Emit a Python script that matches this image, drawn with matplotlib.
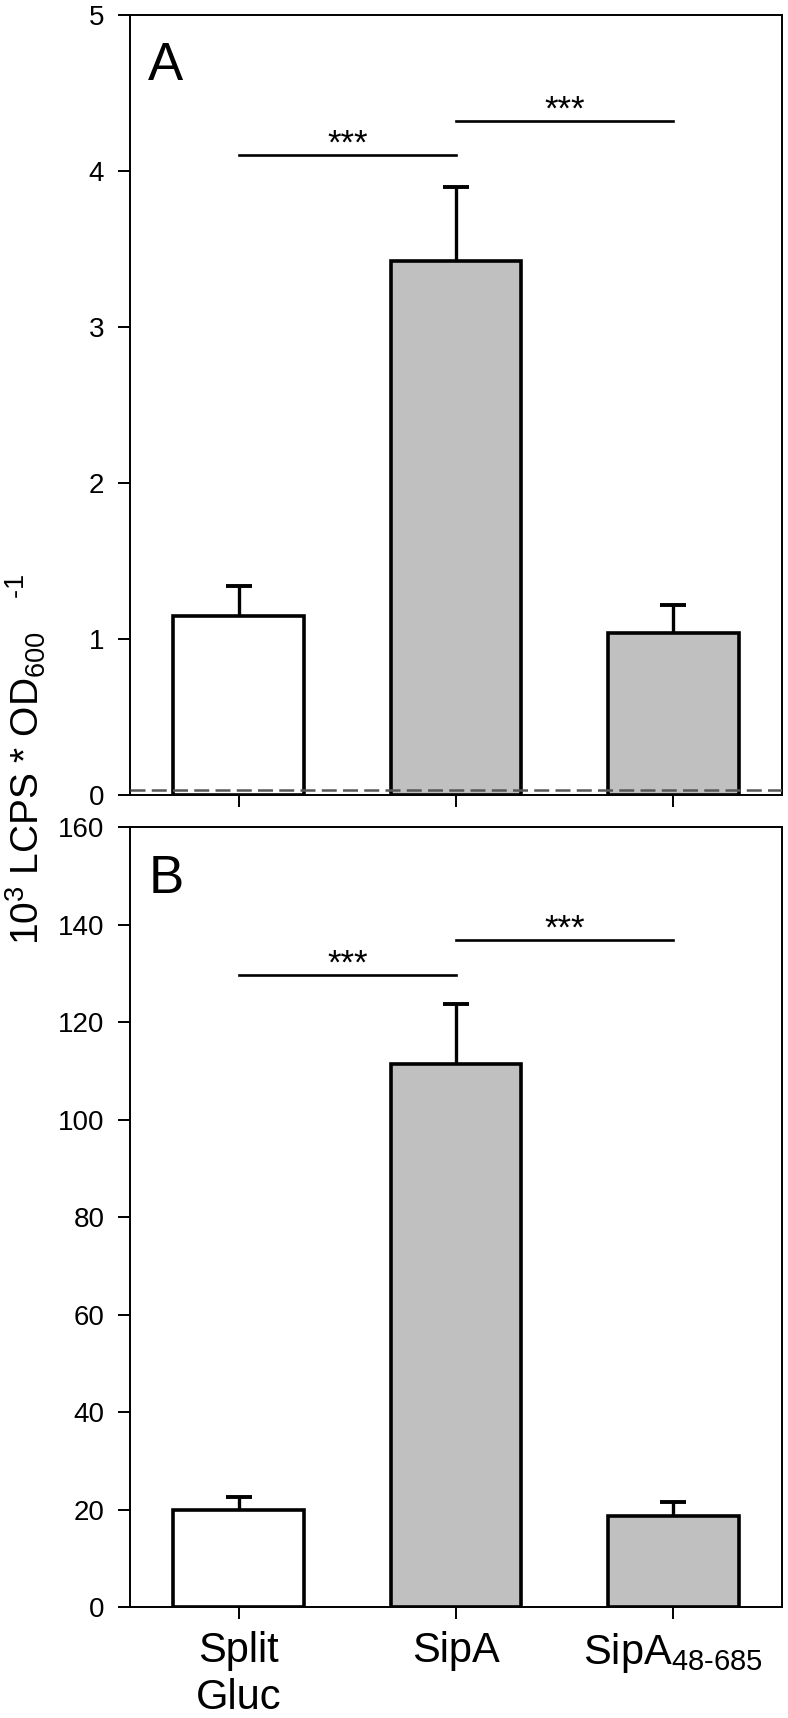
import numpy as np
import matplotlib
matplotlib.use('Agg')
import matplotlib.pyplot as plt

# Fontes
plt.rcParams['font.family'] = ['Liberation Sans', 'DejaVu Sans']
plt.rcParams['mathtext.fontset'] = 'custom'
plt.rcParams['mathtext.rm'] = 'Liberation Sans'
plt.rcParams['mathtext.it'] = 'Liberation Sans:italic'
plt.rcParams['mathtext.bf'] = 'Liberation Sans:bold'

# Dados
grupos = ['Split\nGluc', 'SipA', 'SipA$_{48\u2010685}$']
cores = ['white', '#c0c0c0', '#c0c0c0']

media_a = [1.15, 3.42, 1.04]
erro_a = [0.19, 0.48, 0.18]
base_a = 0.03  # linha tracejada (fundo)
sig_a = [4.10, 4.32]

media_b = [19.8, 111.4, 18.6]
erro_b = [2.7, 12.3, 2.9]
sig_b = [129.6, 136.8]

x = np.arange(len(grupos))

fig = plt.figure(figsize=(7.88, 17.18), dpi=100)
ax_a = fig.add_axes([0.165, 0.5373, 0.8274, 0.454])
ax_b = fig.add_axes([0.165, 0.0646, 0.8274, 0.454])


def desenha(ax, media, erro, sig, ymax, passo, letra):
    ax.bar(x, media, width=0.6, color=cores, edgecolor='black', linewidth=2.6, zorder=2)
    _, caps, _ = ax.errorbar(x, media, yerr=[np.zeros(len(x)), erro], fmt='none',
                             ecolor='black', elinewidth=2.4, capsize=9.5, capthick=2.8, zorder=3)
    caps[0].set_visible(False)  # so a barra de erro superior

    # linhas de significancia
    for i, y in enumerate(sig):
        ax.plot([x[i], x[i + 1]], [y, y], color='black', linewidth=1.9, zorder=3)
        ax.annotate('***', xy=((x[i] + x[i + 1]) / 2, y), xytext=(0, 1),
                    textcoords='offset points', ha='center', va='baseline', fontsize=25)

    ax.set_xlim(-0.5, 2.5)
    ax.set_ylim(0, ymax)
    ax.set_yticks(np.arange(0, ymax + passo / 2, passo))
    ax.set_xticks(x)
    ax.tick_params(axis='both', direction='out', length=8.5, width=1.4, labelsize=20, pad=10)
    ax.tick_params(axis='x', labelsize=30, pad=9)
    for s in ax.spines.values():
        s.set_linewidth(1.4)
    ax.text(0.028, 0.966, letra, transform=ax.transAxes, ha='left', va='top', fontsize=38)


desenha(ax_a, media_a, erro_a, sig_a, 5, 1, 'A')
ax_a.axhline(base_a, color='#585858', linewidth=1.8, linestyle=(0, (6, 2.5)), zorder=4)
ax_a.set_xticklabels([])

desenha(ax_b, media_b, erro_b, sig_b, 160, 20, 'B')
ax_b.set_xticklabels(grupos)

fig.text(26 / 788, 0.558, '10$^3$ LCPS * OD$_{600}\\quad{}^{\u20101}$', rotation=90,
         ha='center', va='center', fontsize=28)

fig.savefig('out.png', dpi=100)
